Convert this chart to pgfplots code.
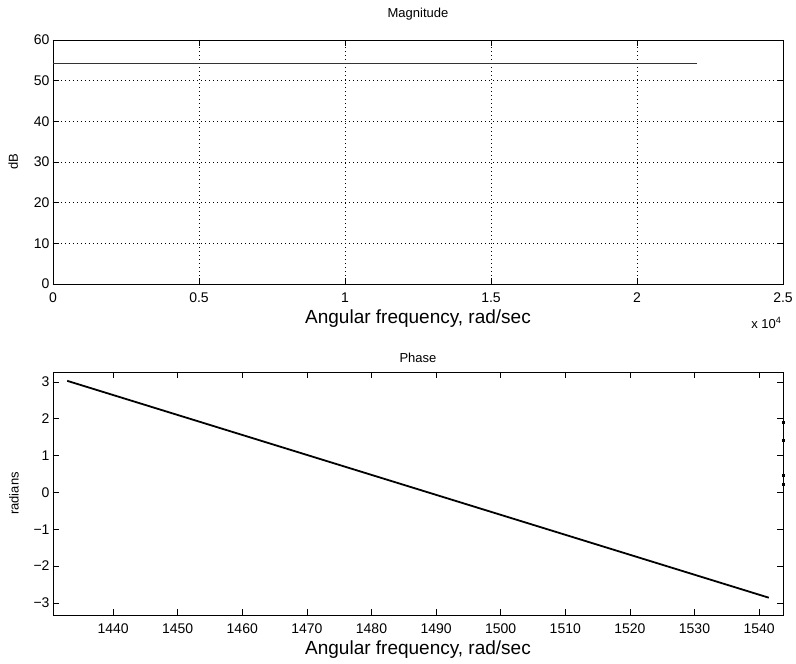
\documentclass[border=0pt]{standalone}
\usepackage{pgfplots}
\pgfplotsset{compat=1.18}
\usepackage{fontspec}
\setmainfont{Liberation Sans}
\begin{document}
\begin{tikzpicture}[x=1pt,y=1pt]
\path[use as bounding box] (0,0) rectangle (796,664);
\pgfplotsset{
  every axis/.append style={
    scale only axis,
    width=730pt,
    /pgf/number format/assume math mode=true,
    /pgf/number format/1000 sep={},
    tick align=inside,
    major tick length=6pt,
    tick style={black, line width=0.6pt},
    axis line style={line width=0.8pt},
    ticklabel style={font=\fontsize{14}{16}\selectfont},
    xticklabel style={yshift=-5pt},
    xlabel style={font=\fontsize{19}{22}\selectfont},
    ylabel style={font=\fontsize{13}{15}\selectfont},
    title style={font=\fontsize{13}{15}\selectfont},
  }
}
% Top: magnitude
\begin{axis}[
  at={(53pt,380pt)}, anchor=south west,
  height=244pt,
  xmin=0, xmax=25000, ymin=0, ymax=60,
  xtick={0,5000,10000,15000,20000,25000},
  xticklabels={0,0.5,1,1.5,2,2.5},
  scaled x ticks=false,
  ytick={0,10,20,30,40,50,60},
  grid=major,
  major grid style={black, line width=0.6pt, dash pattern=on 0.7pt off 3.3pt},
  title={Magnitude},
  title style={yshift=10pt},
  xlabel={Angular frequency, rad/sec},
  ylabel={dB},
  ylabel style={yshift=9pt},
  clip=false,
]
\addplot[black!80, line width=0.7pt] coordinates {(0,54.3) (22050,54.3)};
\node[anchor=north east, font=\fontsize{13}{15}\selectfont] at (rel axis cs:1,0) [yshift=-30pt, xshift=2pt] {x 10\textsuperscript{4}};
\end{axis}
% Bottom: phase
\begin{axis}[
  at={(53pt,49pt)}, anchor=south west,
  height=243pt,
  xmin=1430.7, xmax=1543.7, ymin=-3.33, ymax=3.27,
  xtick={1440,1450,...,1540},
  ytick={-3,-2,-1,0,1,2,3},
  yticklabels={−3,−2,−1,0,1,2,3},
  title={Phase},
  title style={yshift=0pt},
  xlabel={Angular frequency, rad/sec},
  ylabel={radians},
  ylabel style={yshift=8pt},
  clip=false,
]
\addplot[black, line width=1.8pt] coordinates {(1432.9,3.03) (1541.5,-2.86)};
\addplot[only marks, mark=square*, mark size=1.2pt, black] coordinates {(1543.7,1.9) (1543.7,1.41) (1543.7,0.46) (1543.7,0.22)};
\end{axis}
\end{tikzpicture}
\end{document}
